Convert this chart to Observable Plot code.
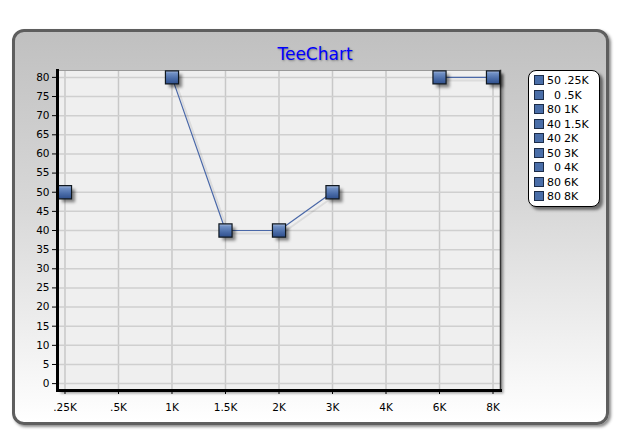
<!DOCTYPE html>
<html>
<head>
<meta charset="utf-8">
<script src="https://cdn.jsdelivr.net/npm/d3@7"></script>
<script src="https://cdn.jsdelivr.net/npm/@observablehq/plot@0.6"></script>
<style>
  html, body { margin: 0; padding: 0; background: #fff; }
  #wrap { position: relative; width: 623px; height: 445px; overflow: hidden; font-family: "DejaVu Sans", sans-serif; }
  #panel { position: absolute; left: 12px; top: 29px; width: 591px; height: 390px;
    border: 3px solid #5e5e5e; border-radius: 12px;
    background: linear-gradient(to bottom, #c0c0c0 0%, #d8d8d8 45%, #ffffff 100%);
    box-shadow: 2px 2px 3px rgba(0,0,0,0.45); }
  #title { position: absolute; left: 0; width: 630px; top: 44px; text-align: center;
    font-size: 17px; color: #0000ff; text-shadow: 1px 1px 2px rgba(0,0,0,0.35); }
  #chart { position: absolute; left: 0; top: 0; }
  #legend { position: absolute; left: 528px; top: 70px; width: 70px; height: 135px;
    background: #fff; border: 1px solid #000; border-radius: 8px;
    box-shadow: 3px 3px 3px rgba(0,0,0,0.5); font-size: 11px; color: #000; }
  .row { position: absolute; left: 5px; height: 14px; line-height: 14px; white-space: pre; }
  .sw { display: inline-block; width: 8px; height: 8px; background: #4a6ea8; border: 1px solid #1c2c48; vertical-align: -1px; margin-right: 3px; }
  .val { display: inline-block; width: 14px; text-align: right; margin-right: 3px; }
</style>
</head>
<body>
<div id="wrap">
  <div id="panel"></div>
  <div id="title">TeeChart</div>
  <div id="chart"></div>
  <div id="legend"></div>
</div>
<script>
const categories = [".25K", ".5K", "1K", "1.5K", "2K", "3K", "4K", "6K", "8K"];
const values = [50, null, 80, 40, 40, 50, null, 80, 80];   // null points are shown as 0 in the legend
const legendValues = [50, 0, 80, 40, 40, 50, 0, 80, 80];
const yTicks = [0, 5, 10, 15, 20, 25, 30, 35, 40, 45, 50, 55, 60, 65, 70, 75, 80];

const data = categories.map((c, i) => ({cat: c, v: values[i]}));
const pts = data.filter(d => d.v != null);
const yMin = -1.8, yMax = 81.8;

const plot = Plot.plot({
  width: 623, height: 445,
  marginLeft: 57, marginRight: 123, marginTop: 70, marginBottom: 55,
  style: {background: "transparent", fontFamily: "DejaVu Sans, sans-serif", fontSize: "10.5px", color: "#000", overflow: "visible"},
  x: {type: "point", domain: categories, padding: 0.14, round: false, label: null},
  y: {domain: [yMin, yMax], label: null},
  marks: [
    Plot.frame({fill: "#000", fillOpacity: 0.35, dx: 3, dy: 3, imageFilter: "blur(1px)"}),
    Plot.frame({fill: "#efefef"}),
    Plot.gridX(categories, {stroke: "#c8c8c8", strokeOpacity: 1, strokeWidth: 1.5}),
    Plot.gridY(yTicks, {stroke: "#cfcfcf", strokeOpacity: 1, strokeWidth: 1.5}),
    Plot.frame({anchor: "top", stroke: "#9a9a9a", strokeWidth: 1}),
    Plot.frame({anchor: "right", stroke: "#333", strokeWidth: 1.5}),
    Plot.axisY(yTicks, {tickSize: 5, tickPadding: 3, stroke: "#000", fill: "#000", label: null}),
    Plot.axisX(categories, {tickSize: 4, tickPadding: 9, stroke: "#000", fill: "#000", label: null}),
    Plot.line(data, {x: "cat", y: "v", stroke: "#000", strokeOpacity: 0.08, strokeWidth: 2, dx: 3, dy: 3}),
    Plot.line(data, {x: "cat", y: "v", stroke: "#4a68a8", strokeWidth: 1.2}),
    Plot.dot(pts, {x: "cat", y: "v", symbol: "square", r: 7.4, fill: "#000", fillOpacity: 0.45, stroke: "none", dx: 3.5, dy: 3.5, imageFilter: "blur(1.5px)"}),
    Plot.dot(pts, {x: "cat", y: "v", symbol: "square", r: 7.4, fill: "url(#mk)", stroke: "#101820", strokeWidth: 1.2}),
    Plot.frame({anchor: "left", stroke: "#000", strokeWidth: 3}),
    Plot.frame({anchor: "bottom", stroke: "#000", strokeWidth: 3})
  ]
});

// gradient for markers
const ns = "http://www.w3.org/2000/svg";
const defs = document.createElementNS(ns, "defs");
defs.innerHTML = `<linearGradient id="mk" x1="0" y1="0" x2="0" y2="1">
  <stop offset="0" stop-color="#a9bde0"/>
  <stop offset="0.2" stop-color="#6f8fc4"/>
  <stop offset="0.6" stop-color="#4a6ca8"/>
  <stop offset="1" stop-color="#2f4f8c"/>
</linearGradient>`;
plot.insertBefore(defs, plot.firstChild);
document.getElementById("chart").appendChild(plot);

// legend
const lg = document.getElementById("legend");
categories.forEach((c, i) => {
  const r = document.createElement("div");
  r.className = "row";
  r.style.top = (3 + i * 14.5) + "px";
  r.innerHTML = `<span class="sw"></span><span class="val">${legendValues[i]}</span>${c}`;
  lg.appendChild(r);
});
</script>
</body>
</html>
